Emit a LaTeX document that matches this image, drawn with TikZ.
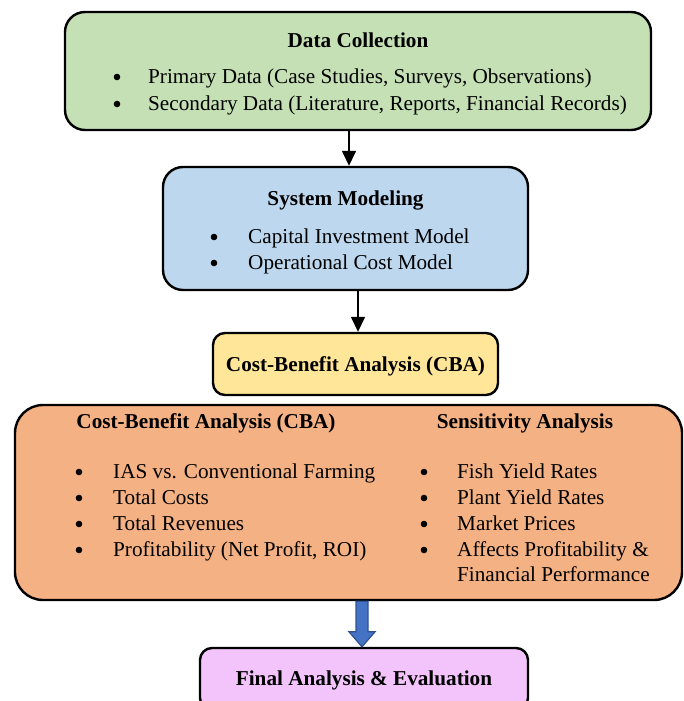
\documentclass[tikz,border=0pt]{standalone}
\usepackage{fontspec}
\setmainfont{Liberation Serif}
\usetikzlibrary{calc,arrows.meta}

\definecolor{boxgreen}{HTML}{C5E0B4}
\definecolor{boxblue}{HTML}{BDD7EE}
\definecolor{boxyellow}{HTML}{FFE699}
\definecolor{boxorange}{HTML}{F4B183}
\definecolor{boxpink}{HTML}{F3C3FB}
\definecolor{arrowfill}{HTML}{4472C4}
\definecolor{arrowedge}{HTML}{2F528F}

\tikzset{
  stage/.style={draw=black, line width=2.4pt, rounded corners=20pt, inner sep=0pt},
  head/.style={font=\fontsize{21.2}{25}\selectfont\bfseries, inner sep=0pt, text height=18pt, text depth=4.5pt},
  item/.style={font=\fontsize{21.2}{25}\selectfont, inner sep=0pt, anchor=west, text height=18pt, text depth=4.5pt},
  dot/.style={circle, fill=black, inner sep=0pt, minimum size=6.6pt},
  flow/.style={line width=1.5pt, -{Triangle[length=15pt,width=14pt]}},
}

\begin{document}
\begin{tikzpicture}[x=1pt,y=-1pt]
\clip (0,0) rectangle (683,701);

% Boxes
\node[stage, fill=boxgreen, minimum width=586pt, minimum height=118pt] (collect) at (358,71) {};
\node[stage, fill=boxblue, minimum width=365pt, minimum height=123pt] (model) at (345.5,228.5) {};
\node[stage, fill=boxyellow, minimum width=285pt, minimum height=62pt, rounded corners=12pt] (cba) at (355.5,364) {};
\node[stage, fill=boxorange, minimum width=667pt, minimum height=195pt, rounded corners=28pt] (analysis) at (348.5,502.5) {};
\node[stage, fill=boxpink, minimum width=328pt, minimum height=62pt, rounded corners=12pt] (final) at (364,679) {};

% Data collection
\node[head] (collectT) at (358,41) {Data Collection};
\node[dot] (cb1) at (117,77) {};
\node[item] (ct1) at (148,77) {Primary Data (Case Studies, Surveys, Observations)};
\node[dot] (cb2) at (117,104) {};
\node[item] (ct2) at (148,104) {Secondary Data (Literature, Reports, Financial Records)};

% System modeling
\node[head] (modelT) at (345.5,199) {System Modeling};
\node[dot] (mb1) at (214,237) {};
\node[item] (mt1) at (248,237) {Capital Investment Model};
\node[dot] (mb2) at (214,263) {};
\node[item] (mt2) at (248,263) {Operational Cost Model};

% CBA
\node[head] (cbaT) at (355.5,365) {Cost-Benefit Analysis (CBA)};

% Combined analysis
\node[head] (leftT) at (206,422) {Cost-Benefit Analysis (CBA)};
\node[head] (rightT) at (525,422) {Sensitivity Analysis};
\node[dot] (lb1) at (79,472) {};
\node[item] (lt1) at (113,472) {IAS vs. Conventional Farming};
\node[dot] (lb2) at (79,498) {};
\node[item] (lt2) at (113,498) {Total Costs};
\node[dot] (lb3) at (79,524) {};
\node[item] (lt3) at (113,524) {Total Revenues};
\node[dot] (lb4) at (79,550) {};
\node[item] (lt4) at (113,550) {Profitability (Net Profit, ROI)};
\node[dot] (rb1) at (424,472) {};
\node[item] (rt1) at (457,472) {Fish Yield Rates};
\node[dot] (rb2) at (424,498) {};
\node[item] (rt2) at (457,498) {Plant Yield Rates};
\node[dot] (rb3) at (424,524) {};
\node[item] (rt3) at (457,524) {Market Prices};
\node[dot] (rb4) at (424,550) {};
\node[item] (rt4) at (457,550) {Affects Profitability \&};
\node[item] (rt5) at (457,575) {Financial Performance};

% Final
\node[head] (finalT) at (364,679) {Final Analysis \& Evaluation};

% Connectors
\draw[flow] ([xshift=-9pt]collect.south) -- ([xshift=3.5pt]model.north);
\draw[flow] ([xshift=12.5pt]model.south) -- ([xshift=2.5pt]cba.north);

% Block arrow
\coordinate (ba) at ([xshift=13.5pt]analysis.south);
\coordinate (bb) at ([xshift=-2pt]final.north);
\filldraw[fill=arrowfill, draw=arrowedge, line width=1.2pt, line join=miter]
  ($(ba)+(-6,0)$) -- ($(ba)+(6,0)$) -- ($(bb)+(6,-15)$) -- ($(bb)+(13,-15)$)
  -- (bb) -- ($(bb)+(-13,-15)$) -- ($(bb)+(-6,-15)$) -- cycle;
\end{tikzpicture}
\end{document}
